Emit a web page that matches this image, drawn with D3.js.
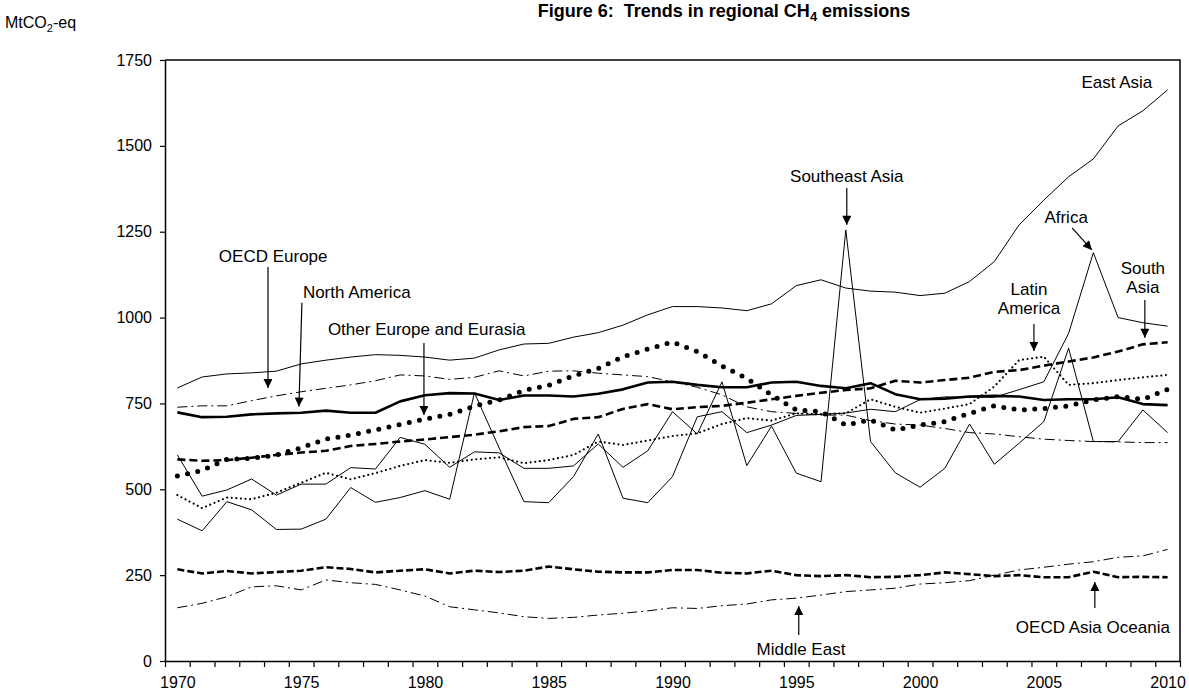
<!DOCTYPE html>
<html>
<head>
<meta charset="utf-8">
<script src="https://cdn.jsdelivr.net/npm/d3@7"></script>
<style>
  body { margin: 0; background: #fff; }
  svg { font-family: "Liberation Sans", Arial, sans-serif; }
</style>
</head>
<body>
<div id="chart"></div>
<script>
// categories
var years = d3.range(1970, 2011);
var yTicks = [0, 250, 500, 750, 1000, 1250, 1500, 1750];
var xLabelYears = [1970, 1975, 1980, 1985, 1990, 1995, 2000, 2005, 2010];

// series values, MtCO2-eq
var eastAsia = [795,827,836,839,844,865,876,885,892,890,885,876,882,906,923,925,943,956,978,1008,1032,1032,1028,1020,1040,1093,1110,1086,1077,1074,1064,1071,1105,1163,1270,1342,1410,1462,1558,1602,1663];
var oecdEurope = [739,743,743,758,772,784,794,804,816,833,830,820,826,845,830,844,845,838,833,828,813,797,775,740,726,721,716,716,700,690,687,677,665,661,653,646,642,639,638,636,636];
var northAmerica = [724,710,711,718,721,723,729,723,723,756,774,780,779,760,773,773,770,778,791,811,813,804,797,797,811,813,801,794,809,777,762,764,770,772,770,760,762,762,768,748,745];
var otherEurope = [539,555,587,590,600,621,646,658,673,689,704,718,742,760,788,803,830,852,886,908,929,901,859,823,775,731,726,687,702,673,687,697,721,743,731,735,743,760,770,762,791];
var southAsia = [587,583,585,592,600,607,612,626,632,639,645,652,659,669,681,684,705,710,734,748,733,739,743,752,762,772,781,789,794,816,811,818,825,842,847,860,872,884,901,922,928];
var latinAmerica = [483,445,476,471,490,519,548,529,547,568,585,577,587,593,576,585,600,639,629,642,655,663,690,707,700,721,719,721,762,740,723,735,748,799,876,886,804,809,818,826,833];
var southeastAsia = [600,480,498,530,483,515,515,563,559,651,631,564,609,606,561,561,568,632,564,612,726,661,813,569,684,547,522,1255,639,548,506,561,690,573,634,697,911,639,639,731,665];
var africa = [413,379,464,440,383,384,413,505,462,476,496,471,781,620,464,461,537,661,474,461,537,711,726,665,687,715,718,722,733,726,761,769,768,768,790,813,954,1189,1000,985,975];
var middleEast = [155,168,187,216,219,207,236,228,223,207,189,158,149,140,129,124,127,134,139,146,155,153,161,166,178,183,192,202,207,212,224,228,234,250,265,273,282,289,302,306,325];
var oecdAsiaOceania = [267,255,262,255,259,263,273,268,258,263,267,255,263,259,263,275,267,260,258,258,265,265,257,255,263,250,247,250,244,245,250,258,253,247,250,244,244,260,244,245,244];

var w = 1189, h = 690;
var plot = {left: 165, right: 1180, top: 60, bottom: 661};

var svg = d3.select('#chart')
  .append('svg')
  .attr('width', w)
  .attr('height', h);

// x: categories, point in the middle of each band
var x = d3.scaleLinear()
  .domain([years[0] - 0.5, years[years.length - 1] + 0.5])
  .range([plot.left, plot.right]);
var y = d3.scaleLinear()
  .domain([0, 1750])
  .range([plot.bottom, plot.top]);

// line styles
var series = [
  {values: eastAsia, width: 1, dash: null},
  {values: oecdEurope, width: 1, dash: '10,4,2,4'},
  {values: middleEast, width: 1, dash: '10,4,2,4'},
  {values: southeastAsia, width: 1, dash: null},
  {values: africa, width: 1, dash: null},
  {values: latinAmerica, width: 2.2, dash: '0,4.6', cap: 'round'},
  {values: southAsia, width: 2.6, dash: '8,4'},
  {values: oecdAsiaOceania, width: 2.6, dash: '7,3'},
  {values: northAmerica, width: 2.6, dash: null},
  {values: otherEurope, width: 5, dash: '0,10.4', cap: 'round'}
];

var line = d3.line()
  .x(function(d, i) { return x(years[i]); })
  .y(function(d) { return y(d); });

svg.append('g').attr('id', 'lines')
  .selectAll('path')
  .data(series)
  .enter().append('path')
  .attr('d', function(d) { return line(d.values); })
  .attr('fill', 'none')
  .attr('stroke', '#000')
  .attr('stroke-width', function(d) { return d.width; })
  .attr('stroke-dasharray', function(d) { return d.dash; })
  .attr('stroke-linecap', function(d) { return d.cap || 'butt'; })
  .attr('stroke-linejoin', 'round');

// frame
svg.append('path')
  .attr('d', 'M' + plot.left + ',' + plot.top + 'H' + plot.right + 'V' + plot.bottom)
  .attr('fill', 'none')
  .attr('stroke', '#000')
  .attr('stroke-width', 1.5);

// y axis
svg.append('g')
  .attr('transform', 'translate(' + plot.left + ',0)')
  .call(d3.axisLeft(y).tickValues(yTicks).tickSize(5).tickPadding(8).tickSizeOuter(0).tickFormat(d3.format('d')));

// x axis: ticks between categories, labels on categories
var bounds = years.map(function(d) { return d - 0.5; }).concat([years[years.length - 1] + 0.5]);
svg.append('g')
  .attr('transform', 'translate(0,' + plot.bottom + ')')
  .call(d3.axisBottom(x).tickValues(bounds).tickSize(6).tickFormat('').tickSizeOuter(0));
var xLabels = svg.append('g')
  .attr('transform', 'translate(0,' + plot.bottom + ')')
  .call(d3.axisBottom(x).tickValues(xLabelYears).tickSize(0).tickPadding(16).tickFormat(d3.format('d')));
xLabels.select('.domain').remove();

svg.selectAll('.domain').attr('stroke-width', 1.5);
svg.selectAll('.tick line').attr('stroke-width', 1.2);
svg.selectAll('.tick text')
  .attr('font-size', 16)
  .attr('font-family', '"Liberation Sans", Arial, sans-serif')
  .attr('fill', '#000');

// title
var title = svg.append('text')
  .attr('x', 724)
  .attr('y', 17)
  .attr('text-anchor', 'middle')
  .attr('font-weight', 'bold')
  .attr('font-size', 18)
  .style('white-space', 'pre');
title.append('tspan').text('Figure 6:  Trends in regional CH');
title.append('tspan').attr('font-size', 13).attr('dy', 4).text('4');
title.append('tspan').attr('dy', -4).text(' emissions');

// unit label
var unit = svg.append('text')
  .attr('x', 5)
  .attr('y', 28)
  .attr('font-size', 16);
unit.append('tspan').text('MtCO');
unit.append('tspan').attr('font-size', 11).attr('dy', 4).text('2');
unit.append('tspan').attr('dy', -4).text('-eq');

// annotations, in data units: text position and arrow (from -> tip)
var notes = [
  {text: ['OECD Europe'], at: [1973.87, 1162], anchor: 'middle', arrow: [1973.66, 1147, 1973.66, 795]},
  {text: ['North America'], at: [1975.07, 1057], anchor: 'start', arrow: [1975.03, 1043, 1974.91, 741]},
  {text: ['Other Europe and Eurasia'], at: [1976.08, 949], anchor: 'start', arrow: [1979.96, 926, 1979.96, 716]},
  {text: ['Southeast Asia'], at: [1997.04, 1395], anchor: 'middle', arrow: [1997.04, 1377, 1997.04, 1270]},
  {text: ['East Asia'], at: [2007.95, 1669], anchor: 'middle'},
  {text: ['Africa'], at: [2005.9, 1275], anchor: 'middle', arrow: [2006.14, 1261, 2006.94, 1197]},
  {text: ['Latin', 'America'], at: [2004.4, 1066], anchor: 'middle', arrow: [2004.6, 981, 2004.6, 903]},
  {text: ['South', 'Asia'], at: [2009.0, 1127], anchor: 'middle', arrow: [2009.08, 1051, 2009.08, 941]},
  {text: ['Middle East'], at: [1995.19, 17], anchor: 'middle', arrow: [1995.1, 76, 1995.1, 160]},
  {text: ['OECD Asia Oceania'], at: [2006.98, 82], anchor: 'middle', arrow: [2007.06, 154, 2007.06, 230]}
];

svg.append('defs').append('marker')
  .attr('id', 'head')
  .attr('viewBox', '0 0 10 10')
  .attr('refX', 10)
  .attr('refY', 5)
  .attr('markerUnits', 'userSpaceOnUse')
  .attr('markerWidth', 10)
  .attr('markerHeight', 9)
  .attr('orient', 'auto')
  .append('path')
  .attr('d', 'M0,0L10,5L0,10z')
  .attr('fill', '#000');

var gNotes = svg.append('g').attr('id', 'notes');
notes.forEach(function(n) {
  var t = gNotes.append('text')
    .attr('x', x(n.at[0]))
    .attr('y', y(n.at[1]))
    .attr('text-anchor', n.anchor)
    .attr('font-size', 17);
  n.text.forEach(function(s, i) {
    t.append('tspan')
      .attr('x', x(n.at[0]))
      .attr('dy', i ? 19 : 0)
      .text(s);
  });
  if (n.arrow) {
    gNotes.append('line')
      .attr('x1', x(n.arrow[0]))
      .attr('y1', y(n.arrow[1]))
      .attr('x2', x(n.arrow[2]))
      .attr('y2', y(n.arrow[3]))
      .attr('stroke', '#000')
      .attr('stroke-width', 1.2)
      .attr('marker-end', 'url(#head)');
  }
});
</script>
</body>
</html>
